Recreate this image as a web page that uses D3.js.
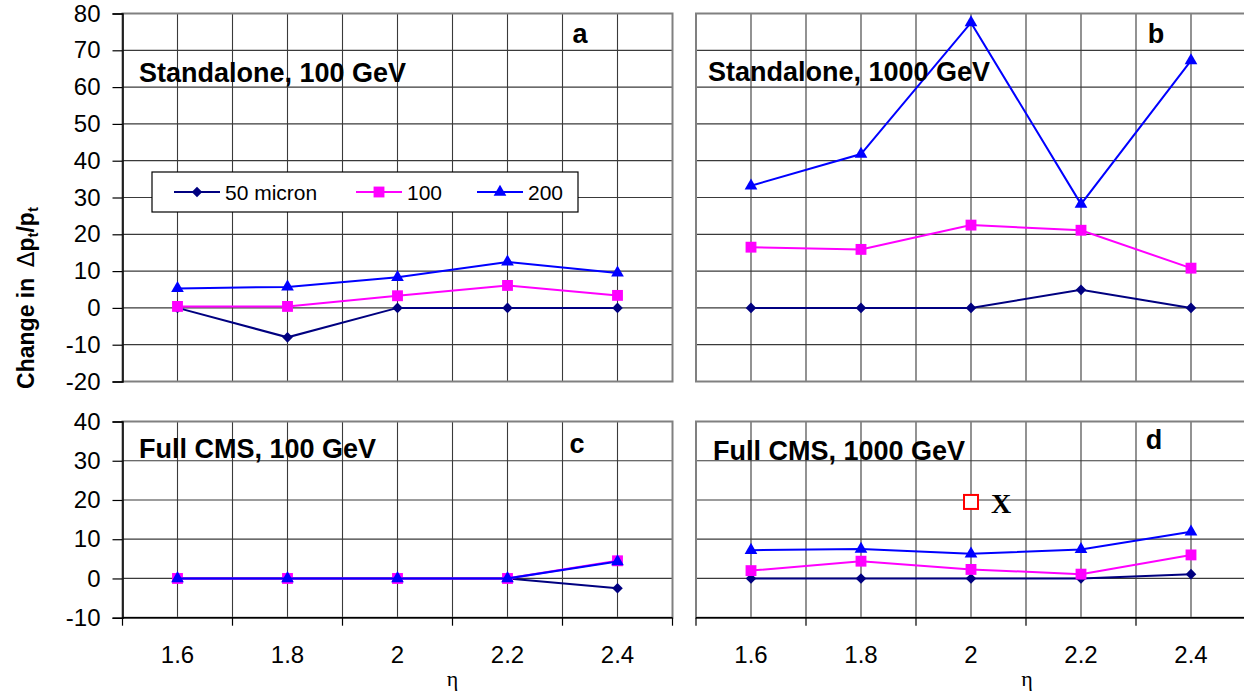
<!DOCTYPE html>
<html><head><meta charset="utf-8">
<script src="https://cdn.jsdelivr.net/npm/d3@7"></script>
<style>body{margin:0;background:#fff}svg{display:block}</style>
</head><body>
<svg id="c" width="1244" height="698"></svg>
<script>
// ---- data ----
const categories = ["1.6","1.8","2","2.2","2.4"];
const seriesNames = ["50 micron","100","200"];
const topTicks = [-20,-10,0,10,20,30,40,50,60,70,80];
const bottomTicks = [-10,0,10,20,30,40];
// panel a: Standalone, 100 GeV
const a50  = [0, -8, 0, 0, 0];
const a100 = [0.4, 0.4, 3.3, 6.1, 3.4];
const a200 = [5.3, 5.7, 8.3, 12.5, 9.5];
// panel b: Standalone, 1000 GeV
const b50  = [0, 0, 0, 4.9, 0];
const b100 = [16.5, 15.9, 22.5, 21.1, 10.8];
const b200 = [33.2, 41.8, 77.5, 28.2, 67.2];
// panel c: Full CMS, 100 GeV
const c50  = [0, 0, 0, 0, -2.5];
const c100 = [0, 0, 0, 0, 4.5];
const c200 = [0, 0, 0, 0, 4.3];
// panel d: Full CMS, 1000 GeV
const d50  = [0, 0, 0, 0, 1.1];
const d100 = [2.0, 4.4, 2.3, 1.1, 6.0];
const d200 = [7.2, 7.5, 6.3, 7.4, 11.9];
// annotation in panel d
const markX = {cat: "2", value: 19.5, label: "X"};

const svg = d3.select("#c");
const FONT = "'Liberation Sans', Arial, Helvetica, sans-serif";
const colors = ["#000080", "#FF00FF", "#0000FF"];
// marker shapes: diamond (rotated square), square, triangle
const diamond = {draw(ctx, size){ const r = Math.sqrt(size)/2*Math.SQRT2; ctx.moveTo(0,-r); ctx.lineTo(r,0); ctx.lineTo(0,r); ctx.lineTo(-r,0); ctx.closePath(); }};
const shapes = [diamond, d3.symbolSquare, d3.symbolTriangle];
const sizes = [56, 118, 70];

const panels = [
  {id:"a", title:"Standalone, 100 GeV", data:[a50,a100,a200], x0:122.5, x1:672.5, y0:381.5, y1:13.5, dom:[-20,80], ticks:topTicks, yLabels:true, xLabels:false, tx:139, ty:82, lx:580, ly:43},
  {id:"b", title:"Standalone, 1000 GeV", data:[b50,b100,b200], x0:696, x1:1246, y0:381.5, y1:13.5, dom:[-20,80], ticks:topTicks, yLabels:false, xLabels:false, tx:708, ty:81, lx:1156, ly:43},
  {id:"c", title:"Full CMS, 100 GeV", data:[c50,c100,c200], x0:122.5, x1:672.5, y0:617.7, y1:421.5, dom:[-10,40], ticks:bottomTicks, yLabels:true, xLabels:true, tx:139, ty:458, lx:577, ly:453},
  {id:"d", title:"Full CMS, 1000 GeV", data:[d50,d100,d200], x0:696, x1:1246, y0:617.7, y1:421.5, dom:[-10,40], ticks:bottomTicks, yLabels:false, xLabels:true, tx:713, ty:460, lx:1154, ly:449}
];

panels.forEach(p => {
  const x = d3.scaleBand().domain(categories).range([p.x0, p.x1]).padding(0);
  const y = d3.scaleLinear().domain(p.dom).range([p.y0, p.y1]);
  const cx = c => x(c) + x.bandwidth()/2;
  const g = svg.append("g");
  // horizontal gridlines
  g.selectAll(".hg").data(p.ticks).join("line")
    .attr("x1", p.x0).attr("x2", p.x1)
    .attr("y1", d => y(d)).attr("y2", d => y(d))
    .attr("stroke", "#3a3a3a").attr("stroke-width", 1.2);
  // vertical gridlines at boundaries and centers
  const vb = categories.map(c => x(c)).slice(1);
  const vc = categories.map(cx);
  g.selectAll(".vg").data(vb.concat(vc)).join("line")
    .attr("x1", d => d).attr("x2", d => d)
    .attr("y1", p.y1).attr("y2", p.y0)
    .attr("stroke", "#3a3a3a").attr("stroke-width", 1.1);
  // border
  g.append("rect").attr("x", p.x0).attr("y", p.y1).attr("width", p.x1-p.x0).attr("height", p.y0-p.y1)
    .attr("fill", "none").attr("stroke", "#808080").attr("stroke-width", 2);
  if (p.yLabels) {
    const ax = d3.axisLeft(y).tickValues(p.ticks).tickSize(10).tickPadding(12).tickFormat(d => String(d));
    const a = g.append("g").attr("transform", `translate(${p.x0},0)`).call(ax);
    a.select(".domain").attr("stroke", "#000").attr("stroke-width", 1.5);
    a.selectAll(".tick line").attr("stroke", "#000").attr("stroke-width", 1.2);
    a.selectAll("text").attr("font-family", FONT).attr("font-size", 24).attr("fill", "#000");
  }
  if (p.xLabels) {
    const ax = d3.axisBottom(x).tickSize(0).tickPadding(0).tickFormat(d => d);
    const a = g.append("g").attr("transform", `translate(0,${p.y0})`).call(ax);
    a.select(".domain").remove();
    a.selectAll("text").attr("font-family", FONT).attr("font-size", 24).attr("fill", "#000")
      .attr("dy", null).attr("y", 45);
    g.append("line").attr("x1", p.x0).attr("x2", p.x1).attr("y1", p.y0).attr("y2", p.y0)
      .attr("stroke", "#000").attr("stroke-width", 1.5);
    g.selectAll(".xt").data(categories.map(c => x(c)).concat([p.x1])).join("line")
      .attr("x1", d => d).attr("x2", d => d).attr("y1", p.y0).attr("y2", p.y0 + 8)
      .attr("stroke", "#000").attr("stroke-width", 1.2);
  }
  // series
  p.data.forEach((vals, si) => {
    const line = d3.line().x((d, i) => cx(categories[i])).y(d => y(d));
    g.append("path").datum(vals).attr("d", line).attr("fill", "none")
      .attr("stroke", colors[si]).attr("stroke-width", 2);
    g.selectAll(".m" + si).data(vals).join("path")
      .attr("transform", (d, i) => `translate(${cx(categories[i])},${y(d)})`)
      .attr("d", d3.symbol().type(shapes[si]).size(sizes[si]))
      .attr("fill", colors[si]);
  });
  // titles
  g.append("text").attr("x", p.tx).attr("y", p.ty).text(p.title)
    .attr("font-family", FONT).attr("font-weight", "bold").attr("font-size", 27).attr("fill", "#000");
  g.append("text").attr("x", p.lx).attr("y", p.ly).text(p.id).attr("text-anchor", "middle")
    .attr("font-family", FONT).attr("font-weight", "bold").attr("font-size", 27).attr("fill", "#000");
  if (p.id === "d") {
    const mx = cx(markX.cat), my = y(markX.value);
    g.append("rect").attr("x", mx - 7).attr("y", my - 7).attr("width", 14).attr("height", 14)
      .attr("fill", "#fff").attr("stroke", "#FF0000").attr("stroke-width", 2);
    g.append("text").attr("x", mx + 20).attr("y", my + 11).text(markX.label)
      .attr("font-family", "'Liberation Serif','Times New Roman',serif").attr("font-weight", "bold")
      .attr("font-size", 28).attr("fill", "#000");
  }
  if (p.id === "a") {
    // legend
    const lg = g.append("g");
    lg.append("rect").attr("x", 152).attr("y", 172).attr("width", 426).attr("height", 40)
      .attr("fill", "#fff").attr("stroke", "#000").attr("stroke-width", 1.2);
    const lx = [174, 356, 477];
    seriesNames.forEach((n, si) => {
      lg.append("line").attr("x1", lx[si]).attr("x2", lx[si] + 46).attr("y1", 192).attr("y2", 192)
        .attr("stroke", colors[si]).attr("stroke-width", 2);
      lg.append("path").attr("transform", `translate(${lx[si] + 23},192)`)
        .attr("d", d3.symbol().type(shapes[si]).size(sizes[si])).attr("fill", colors[si]);
      lg.append("text").attr("x", lx[si] + 51).attr("y", 199.5).text(n)
        .attr("font-family", FONT).attr("font-size", 21).attr("fill", "#000");
    });
  }
});

// axis titles
const yt = svg.append("text").attr("transform", "translate(34,298) rotate(-90)")
  .attr("text-anchor", "middle").attr("font-family", FONT).attr("font-weight", "bold")
  .attr("font-size", 23).attr("fill", "#000");
yt.append("tspan").text("Change in ");
yt.append("tspan").text("\u0394").attr("font-weight", "normal").attr("font-family", "'DejaVu Sans', sans-serif").attr("dx", 4);
yt.append("tspan").text("p");
yt.append("tspan").text("t").attr("font-size", 15).attr("dy", 4);
yt.append("tspan").text("/p").attr("dy", -4);
yt.append("tspan").text("t").attr("font-size", 15).attr("dy", 4);

[452.5, 1027].forEach(xx => {
  svg.append("text").attr("x", xx).attr("y", 686).attr("text-anchor", "middle").text("\u03B7")
    .attr("font-family", "'Liberation Serif','Times New Roman',serif").attr("font-size", 22).attr("fill", "#000");
});
</script>
</body></html>
